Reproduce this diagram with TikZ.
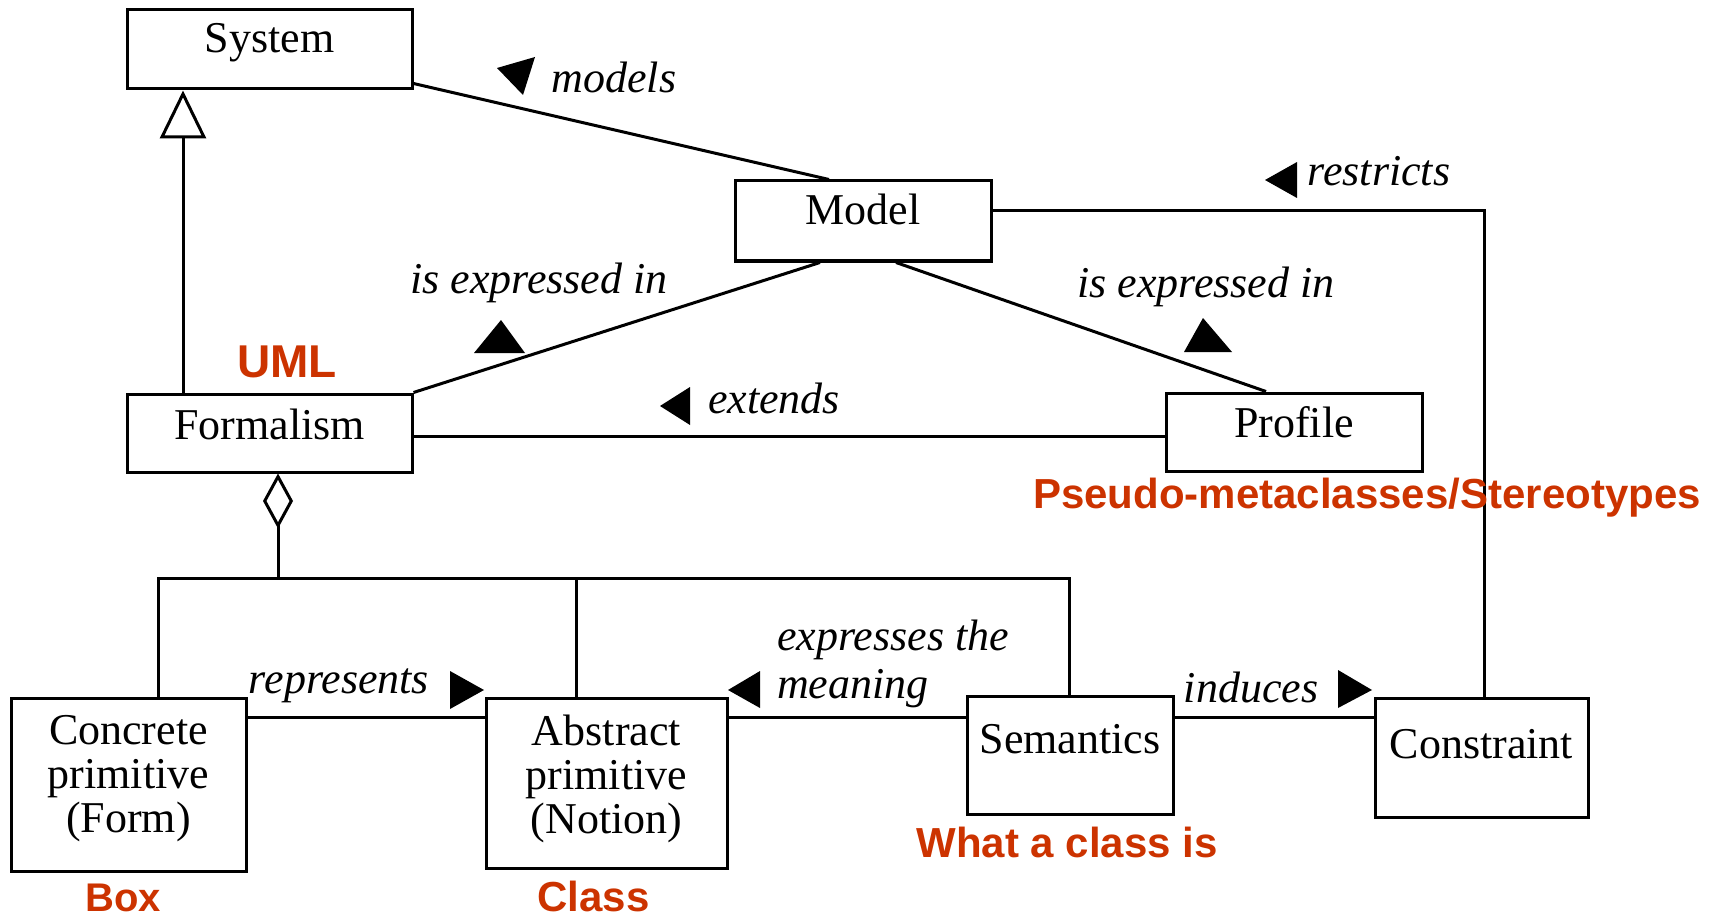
\documentclass[tikz,border=0pt]{standalone}
\usepackage{fontspec}
\setmainfont{Liberation Serif}
\newfontfamily\redsans{Liberation Sans}
\usetikzlibrary{arrows.meta,calc}
\definecolor{ured}{RGB}{204,51,0}
\tikzset{
  conn/.style={line width=3pt},
  box/.style={draw, line width=3pt, rectangle, inner sep=0pt},
  boxtext/.style={font=\fontsize{44}{44}\selectfont, inner sep=0pt, anchor=base},
  boxtextml/.style={font=\fontsize{44}{44}\selectfont, inner sep=0pt, align=center},
  rolelabel/.style={font=\fontsize{44}{48}\selectfont\itshape, inner sep=0pt, anchor=base},
  redlabel/.style={font=\redsans\bfseries\fontsize{42}{42}\selectfont, text=ured, inner sep=0pt, anchor=base},
  dirmark/.style={fill=black},
}
\begin{document}
\begin{tikzpicture}[x=1pt,y=-1pt]
\useasboundingbox (0,0) rectangle (1711,920);
% boxes
\node[box, minimum width=285pt, minimum height=79pt] (sys) at (269.5,49.5) {};
\node[box, minimum width=256pt, minimum height=80pt] (model) at (863,221) {};
\node[box, minimum width=285pt, minimum height=78pt] (form) at (269.5,433) {};
\node[box, minimum width=256pt, minimum height=78pt] (prof) at (1294,432) {};
\node[box, minimum width=235pt, minimum height=173pt] (conc) at (128.5,784.5) {};
\node[box, minimum width=241pt, minimum height=170pt] (abs) at (606.5,783) {};
\node[box, minimum width=206pt, minimum height=118pt] (sem) at (1070,755) {};
\node[box, minimum width=213pt, minimum height=119pt] (con) at (1481.5,757.5) {};
% box texts
\node[boxtext] (systxt) at (269.5,53) {System};
\node[boxtext] (modeltxt) at (863,225) {Model};
\node[boxtext] (formtxt) at (269.5,439) {Formalism};
\node[boxtext] (proftxt) at (1294,437) {Profile};
\node[boxtextml] (conctxt) at (128.5,779) {Concrete\\primitive\\(Form)};
\node[boxtextml] (abstxt) at (606.5,779) {Abstract\\primitive\\(Notion)};
\node[boxtext] (semtxt) at (1070,753) {Semantics};
\node[boxtext] (contxt) at (1481.5,758) {Constraint};
% connectors
\draw[conn] ($(sys.south east)+(0,-7)$) -- ($(model.north)+(-34,0)$);
\draw[conn] (form.north east) -- ($(model.south)+(-43,0)$);
\draw[conn] ($(model.south)+(33,0)$) -- ($(prof.north)+(-28,0)$);
\draw[conn] ($(model.east)+(0,-10)$) -| ($(con.north)+(2.5,0)$);
\draw[conn] ($(form.east)+(0,3)$) -- ($(prof.west)+(0,4)$);
\draw[conn, -{Triangle[open,length=48pt,width=46pt]}] ($(form.north)+(-86.5,0)$) -- ($(sys.south)+(-86.5,0)$);
\coordinate (aggB) at (278,578);
\coordinate (busL) at (158,578);
\coordinate (busM) at (576,578);
\coordinate (busR) at (1069,578);
\draw[conn, {Diamond[open,length=55pt,width=30pt]}-] ($(form.south)+(8.5,0)$) -- (aggB);
\draw[conn] (conc.north -| busL) -- (busL) -- (busR) -- (sem.north -| busR);
\draw[conn] (busM) -- (abs.north -| busM);
\draw[conn] ($(conc.east)+(0,-67)$) coordinate (r1) -- (r1 -| abs.west);
\draw[conn] ($(abs.east)+(0,-66)$) coordinate (e1) -- (e1 -| sem.west);
\draw[conn] ($(sem.east)+(0,-38)$) coordinate (i1) -- (i1 -| con.west);
% reading-direction marks
\fill[dirmark] (497,68) -- (535,57) -- (523,95) -- cycle;
\fill[dirmark] (1265,180) -- (1297,162) -- (1297,198) -- cycle;
\fill[dirmark] (474,353) -- (501,320) -- (525,353) -- cycle;
\fill[dirmark] (1184,352) -- (1203,318) -- (1232,352) -- cycle;
\fill[dirmark] (660,406) -- (690,387) -- (690,425) -- cycle;
\fill[dirmark] (450,671) -- (450,709) -- (484,690) -- cycle;
\fill[dirmark] (728,690) -- (760,671) -- (760,708) -- cycle;
\fill[dirmark] (1338,670) -- (1338,708) -- (1372,690) -- cycle;
% role labels
\node[rolelabel] (lmodels) at (614,93) {models};
\node[rolelabel] (lrestr) at (1379,186) {restricts};
\node[rolelabel] (liei1) at (539,293) {is expressed in};
\node[rolelabel] (liei2) at (1206,298) {is expressed in};
\node[rolelabel] (lext) at (774,413) {extends};
\node[rolelabel] (lrep) at (339,693) {represents};
\node[rolelabel, anchor=north west, align=left] (lexp) at (777,620) {expresses the\\meaning};
\node[rolelabel] (lind) at (1251,702) {induces};
% red annotations
\node[redlabel, font=\redsans\bfseries\fontsize{46}{46}\selectfont] (ruml) at (287,377) {UML};
\node[redlabel] (rpseudo) at (1367,508) {Pseudo-metaclasses/Stereotypes};
\node[redlabel] (rwhat) at (1067,857) {What a class is};
\node[redlabel, font=\redsans\bfseries\fontsize{40}{40}\selectfont] (rbox) at (123,911) {Box};
\node[redlabel] (rclass) at (593.5,911) {Class};
\end{tikzpicture}
\end{document}
